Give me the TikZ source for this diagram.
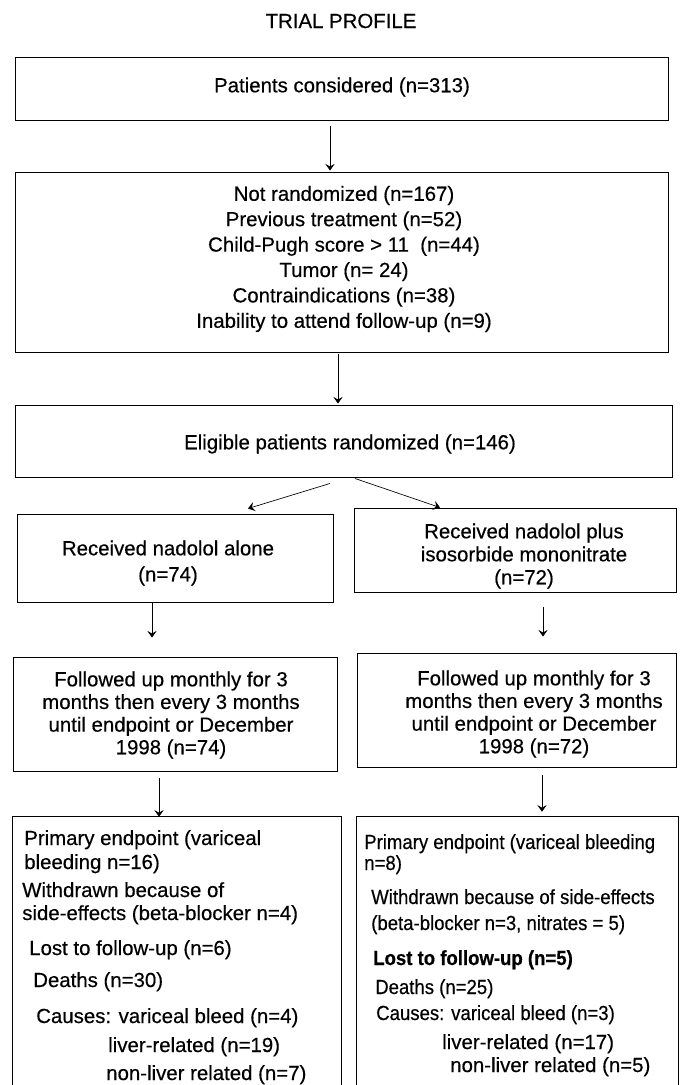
\documentclass[tikz,border=0pt]{standalone}
\usepackage{fontspec}
\setmainfont{Liberation Sans}[FakeBold=0.4]
\newfontfamily\narrowfont[FakeStretch=0.91,FakeBold=0.4]{Liberation Sans}
\usetikzlibrary{arrows.meta,calc,fit}
\begin{document}
\begin{tikzpicture}[x=0.75pt,y=-0.75pt,
  box/.style={draw, line width=0.7pt, inner sep=0pt},
  frame/.style={inner sep=0pt},
  txt/.style={inner sep=0pt, align=center},
  arr/.style={line width=0.5pt, -{Stealth[length=5pt,width=7pt,inset=2pt]}},
  lineL/.style={inner sep=0pt, anchor=base west, font=\fontsize{15.3}{18}\selectfont},
]
\useasboundingbox (0,0) rectangle (680,1085);
\fill[white] (0,0) rectangle (680,1085);

% title
\node[txt, font=\fontsize{15.3}{18}\selectfont] (title) at (341,21) {TRIAL PROFILE};

% boxes
\node[box, fit={(15,57) (668,120)}] (b1) {};
\node[box, fit={(15,172) (668,352)}] (b2) {};
\node[box, fit={(15,405) (672,477)}] (b3) {};
\node[box, fit={(17,514) (333,602)}] (b4l) {};
\node[box, fit={(354,508) (676,592)}] (b4r) {};
\node[box, fit={(13,657) (337,771)}] (b5l) {};
\node[box, fit={(357,653) (676,767)}] (b5r) {};
\node[frame, fit={(13,817) (341,1085)}] (b6l) {};
\node[frame, fit={(357,817) (678,1085)}] (b6r) {};
\draw[line width=0.7pt] (b6l.south west) -- (b6l.north west) -- (b6l.north east) -- (b6l.south east);
\draw[line width=0.7pt] (b6r.south west) -- (b6r.north west) -- (b6r.north east) -- (b6r.south east);

% texts
\node[txt, font=\fontsize{15.3}{19}\selectfont] (t1) at (342,87) {Patients considered (n=313)};
\node[txt, font=\fontsize{15.3}{19.05}\selectfont] (t2) at (344,259)
  {Not randomized (n=167)\\Previous treatment (n=52)\\Child-Pugh score > 11 \ (n=44)\\Tumor (n= 24)\\Contraindications (n=38)\\Inability to attend follow-up (n=9)};
\node[txt, font=\fontsize{15.3}{19}\selectfont] (t3) at (350,444) {Eligible patients randomized (n=146)};
\node[txt, font=\fontsize{15.3}{19.5}\selectfont] (t4l) at (168,563) {Received nadolol alone\\(n=74)};
\node[txt, font=\fontsize{15.3}{17.25}\selectfont] (t4r) at (524,556) {Received nadolol plus\\isosorbide mononitrate\\(n=72)};
\node[txt, font=\fontsize{15.3}{17}\selectfont] (t5l) at (171,715) {Followed up monthly for 3\\months then every 3 months\\until endpoint or December\\1998 (n=74)};
\node[txt, font=\fontsize{15.3}{17}\selectfont] (t5r) at (534,714) {Followed up monthly for 3\\months then every 3 months\\until endpoint or December\\1998 (n=72)};

\foreach \x/\y/\t [count=\i] in {
  24/845/{Primary endpoint (variceal},
  24/869/{bleeding n=16)},
  22/897/{Withdrawn because of},
  22/920/{side-effects (beta-blocker n=4)},
  29/955/{Lost to follow-up (n=6)},
  33/987/{Deaths (n=30)},
  36/1023/{Causes: variceal bleed (n=4)},
  108/1052/{liver-related (n=19)},
  106/1080/{non-liver related (n=7)}}
  \node[lineL] (l\i) at (\x,\y) {\t};

\foreach \x/\y/\t [count=\i] in {
  364/849/{\narrowfont Primary endpoint (variceal bleeding},
  364/870/{\narrowfont n=8)},
  371/904/{\narrowfont Withdrawn because of side-effects},
  371/930/{\narrowfont (beta-blocker n=3, nitrates = 5)},
  373/965/{\narrowfont\bfseries Lost to follow-up (n=5)},
  375/994/{\narrowfont Deaths (n=25)},
  376/1020/{\narrowfont Causes: variceal bleed (n=3)},
  442/1049/{liver-related (n=17)},
  450/1072/{non-liver related (n=5)}}
  \node[lineL] (r\i) at (\x,\y) {\t};

% connectors
\draw[arr] ($(b1.south)+(-11.5,6)$) -- ($(b2.north)+(-11.5,-1)$);
\draw[arr] ($(b2.south)+(-3.5,2)$) -- ($(b3.north)+(-5.5,-1)$);
\draw[arr] ($(b3.south)+(-13.5,6)$) -- ($(b4l.north)+(73,-5)$);
\draw[arr] ($(b3.south)+(11.5,1)$) -- ($(b4r.north)+(-75,0)$);
\draw[arr] ($(b4l.south)+(-23,1)$) -- ($(b5l.north)+(-23,-19)$);
\draw[arr] ($(b4r.south)+(28,15)$) -- ($(b5r.north)+(26.5,-16)$);
\draw[arr] ($(b5l.south)+(-16,7)$) -- ($(b6l.north)+(-18,0)$);
\draw[arr] ($(b5r.south)+(25.5,8)$) -- ($(b6r.north)+(24.5,-5)$);
\end{tikzpicture}
\end{document}
